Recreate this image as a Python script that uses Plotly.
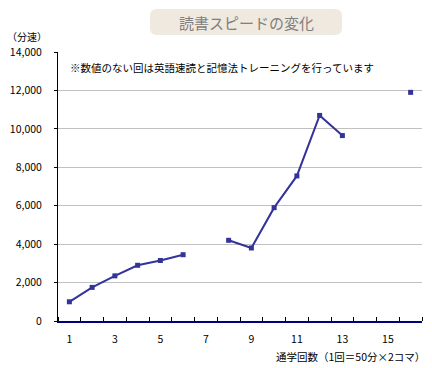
import plotly.graph_objects as go

sessions = list(range(1, 17))
speed = [1000, 1750, 2350, 2900, 3150, 3450, None, 4200, 3800, 5900, 7550, 10700, 9650, None, None, 11900]
x_tick_vals = [1, 3, 5, 7, 9, 11, 13, 15]
y_tick_vals = [0, 2000, 4000, 6000, 8000, 10000, 12000, 14000]

FONT = "Noto Sans CJK JP"
NAVY = "#333399"

# page has an 8px body margin; figure origin sits at page (8, 8)
OFF = 8
W, H = 432 - OFF, 368 - OFF
PL, PR, PT, PB = 58, 422, 52, 321  # plot area in page pixels
L, T = PL - OFF, PT - OFF
R = W - (PR - OFF)
B = H - (PB - OFF)
pw, ph = PR - PL, PB - PT

def px2paper(x, y):
    return (x - PL) / pw, (PB - y) / ph

fig = go.Figure()
fig.add_trace(go.Scatter(
    x=sessions, y=speed, mode="lines+markers",
    line=dict(color=NAVY, width=2),
    marker=dict(symbol="square", size=5, color=NAVY),
    connectgaps=False, showlegend=False, hoverinfo="skip",
))

# rounded title box
x0, y0, x1, y1, r = 150, 9, 342, 35, 7
def P(x, y):
    a, b = px2paper(x, y)
    return f"{a:.5f},{b:.5f}"
path = (f"M {P(x0+r, y0)} L {P(x1-r, y0)} Q {P(x1, y0)} {P(x1, y0+r)} "
        f"L {P(x1, y1-r)} Q {P(x1, y1)} {P(x1-r, y1)} L {P(x0+r, y1)} "
        f"Q {P(x0, y1)} {P(x0, y1-r)} L {P(x0, y0+r)} Q {P(x0, y0)} {P(x0+r, y0)} Z")
fig.add_shape(type="path", path=path, xref="paper", yref="paper",
              fillcolor="#efe9df", line=dict(width=0), layer="below")

tx, ty = px2paper(246, 22)
fig.add_annotation(text="読書スピードの変化", x=tx, y=ty, xref="paper", yref="paper",
                   showarrow=False, font=dict(family=FONT, size=15, color="#7f7f7f"),
                   xanchor="center", yanchor="middle")

ax_, ay_ = px2paper(5, 37)
fig.add_annotation(text="（分速）", x=ax_, y=ay_, xref="paper", yref="paper",
                   showarrow=False, font=dict(family=FONT, size=10, color="black"),
                   xanchor="left", yanchor="middle")

nx, ny = px2paper(68, 68)
fig.add_annotation(text="※数値のない回は英語速読と記憶法トレーニングを行っています",
                   x=nx, y=ny, xref="paper", yref="paper", showarrow=False,
                   font=dict(family=FONT, size=10.5, color="black"),
                   xanchor="left", yanchor="middle")

xx, xy = px2paper(427, 356)
fig.add_annotation(text="通学回数（1回＝50分×2コマ）", x=xx, y=xy, xref="paper", yref="paper",
                   showarrow=False, font=dict(family=FONT, size=10.5, color="black"),
                   xanchor="right", yanchor="middle")

fig.update_layout(
    width=W, height=H,
    margin=dict(l=L, r=R, t=T, b=B, pad=0, autoexpand=False),
    paper_bgcolor="white", plot_bgcolor="white",
    font=dict(family=FONT, size=10, color="black"),
    xaxis=dict(
        range=[0.5, 16.5], tickvals=x_tick_vals, ticks="", showgrid=False,
        zeroline=False, showline=True, linecolor="#000080", linewidth=1.5,
        ticklabelstandoff=8, automargin=False,
        minor=dict(tick0=0.5, dtick=1, ticks="inside", ticklen=4, tickcolor="black",
                   showgrid=False),
        tickfont=dict(family=FONT, size=10.5),
        fixedrange=True,
    ),
    yaxis=dict(
        range=[0, 14000], tickvals=y_tick_vals, tickformat=",d",
        showgrid=True, gridcolor="#c0c0c0", gridwidth=1,
        zeroline=False, showline=True, linecolor="black", linewidth=1,
        ticks="outside", ticklen=3, tickcolor="black",
        ticklabelstandoff=10, automargin=False,
        tickfont=dict(family=FONT, size=10.5),
        fixedrange=True,
    ),
)

fig.write_html("out.html")
